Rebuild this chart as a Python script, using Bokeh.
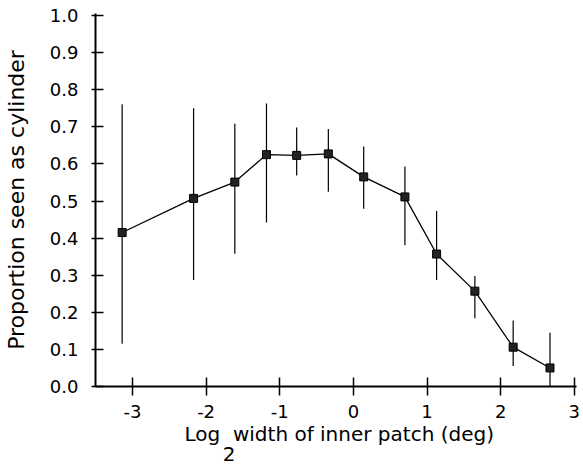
from bokeh.plotting import figure
from bokeh.models import FixedTicker, Range1d, Title
from bokeh.embed import file_html
from bokeh.resources import INLINE

# ---- data ----
log_width = [-3.14, -2.17, -1.61, -1.18, -0.77, -0.34, 0.14, 0.70, 1.13, 1.65, 2.17, 2.67]
proportion = [0.415, 0.507, 0.551, 0.625, 0.623, 0.627, 0.565, 0.511, 0.357, 0.257, 0.106, 0.050]
err_upper = [0.761, 0.750, 0.708, 0.763, 0.698, 0.694, 0.647, 0.593, 0.473, 0.298, 0.178, 0.145]
err_lower = [0.115, 0.287, 0.358, 0.442, 0.569, 0.525, 0.479, 0.381, 0.287, 0.184, 0.055, 0.0]

x_ticks = [-3, -2, -1, 0, 1, 2, 3]
x_tick_labels = ["-3", "-2", "-1", "0", "1", "2", "3"]
y_ticks = [0.0, 0.1, 0.2, 0.3, 0.4, 0.5, 0.6, 0.7, 0.8, 0.9, 1.0]
y_tick_labels = ["0.0", "0.1", "0.2", "0.3", "0.4", "0.5", "0.6", "0.7", "0.8", "0.9", "1.0"]

y_title = "Proportion seen as cylinder"
# "Log" with subscript 2 on the next line, below the gap after "Log"
x_title = "Log\u00a0\u00a0width of inner patch (deg)\n" + "\u00a0" * 6 + "2"

FONT = "DejaVu Sans"

p = figure(width=583, height=466, output_backend="svg", toolbar_location=None,
           x_range=Range1d(-3.502, 3.03), y_range=Range1d(0, 1.0054),
           min_border_left=91, min_border_right=7, min_border_top=13, min_border_bottom=78)
p.outline_line_color = None
p.xgrid.visible = False
p.ygrid.visible = False
p.background_fill_color = "white"
p.border_fill_color = "white"

# error bars
p.segment(x0=log_width, y0=err_lower, x1=log_width, y1=err_upper,
          line_color="black", line_width=1.2)
# connecting line
p.line(log_width, proportion, line_color="black", line_width=1.3)
# markers
p.scatter(log_width, proportion, marker="square", size=8,
          fill_color="#222222", line_color="black", line_width=1)

# axes
for ax in (p.xaxis[0], p.yaxis[0]):
    ax.axis_line_color = "black"
    ax.axis_line_width = 2
    ax.major_tick_line_color = "black"
    ax.major_tick_line_width = 1.5
    ax.minor_tick_line_color = None
    ax.major_label_text_font = FONT
    ax.major_label_text_font_size = "18px"
    ax.major_label_text_color = "black"

p.xaxis.ticker = FixedTicker(ticks=x_ticks)
p.xaxis.major_label_overrides = {t: l for t, l in zip(x_ticks, x_tick_labels)}
p.xaxis.major_tick_in = 9
p.xaxis.major_tick_out = 9
p.xaxis.major_label_standoff = 9

p.yaxis.ticker = FixedTicker(ticks=y_ticks)
p.yaxis.major_label_overrides = {t: l for t, l in zip(y_ticks, y_tick_labels)}
p.yaxis.major_tick_in = 8
p.yaxis.major_tick_out = 4
p.yaxis.major_label_standoff = 13
p.yaxis.axis_label = y_title
p.yaxis.axis_label_text_font = FONT
p.yaxis.axis_label_text_font_size = "22px"
p.yaxis.axis_label_text_font_style = "normal"
p.yaxis.axis_label_text_color = "black"
p.yaxis.axis_label_standoff = 18

# x axis title (two lines: main text, then the subscript 2)
t_x = Title(text=x_title, align="left", offset=89, standoff=0,
            text_font=FONT, text_font_size="20px", text_font_style="normal",
            text_color="black", text_line_height=0.85)
p.add_layout(t_x, "below")

open("out.html", "w").write(file_html(p, INLINE))
